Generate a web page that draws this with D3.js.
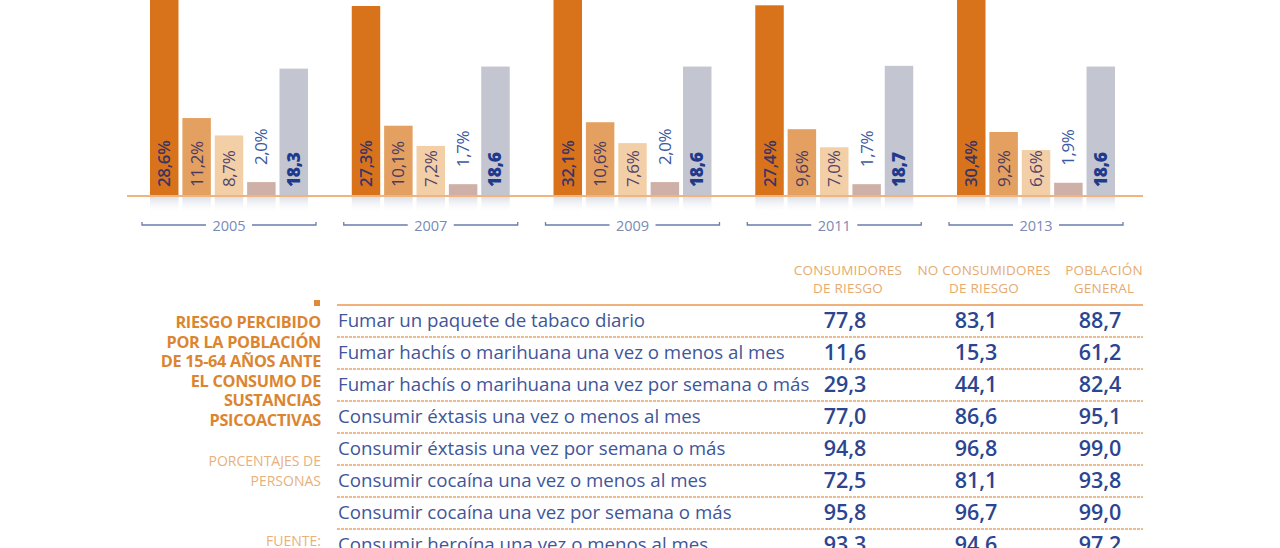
<!DOCTYPE html>
<html><head><meta charset="utf-8">
<script src="https://cdn.jsdelivr.net/npm/d3@7"></script>
<style>
html,body{margin:0;padding:0;background:#fff;}
svg{display:block;}
text{font-family:"Open Sans","Noto Sans",sans-serif;}
</style></head>
<body>
<svg id="c" width="1280" height="548"></svg>
<script>
// ---- Data ----
const years = ["2005","2007","2009","2011","2013"];
const seriesKeys = ["s1","s2","s3","s4","s5"];
const s1 = [28.6, 27.3, 32.1, 27.4, 30.4];
const s2 = [11.2, 10.1, 10.6, 9.6, 9.2];
const s3 = [8.7, 7.2, 7.6, 7.0, 6.6];
const s4 = [2.0, 1.7, 2.0, 1.7, 1.9];
const s5 = [18.3, 18.6, 18.6, 18.7, 18.6];

const tableHeaders = [["CONSUMIDORES","DE RIESGO"],["NO CONSUMIDORES","DE RIESGO"],["POBLACIÓN","GENERAL"]];
const rowLabels = [
  "Fumar un paquete de tabaco diario",
  "Fumar hachís o marihuana una vez o menos al mes",
  "Fumar hachís o marihuana una vez por semana o más",
  "Consumir éxtasis una vez o menos al mes",
  "Consumir éxtasis una vez por semana o más",
  "Consumir cocaína una vez o menos al mes",
  "Consumir cocaína una vez por semana o más",
  "Consumir heroína una vez o menos al mes"
];
const colConsumidores = [77.8, 11.6, 29.3, 77.0, 94.8, 72.5, 95.8, 93.3];
const colNoConsumidores = [83.1, 15.3, 44.1, 86.6, 96.8, 81.1, 96.7, 94.6];
const colPoblacion = [88.7, 61.2, 82.4, 95.1, 99.0, 93.8, 99.0, 97.2];
const titleLines = ["RIESGO PERCIBIDO","POR LA POBLACIÓN","DE 15-64 AÑOS ANTE","EL CONSUMO DE","SUSTANCIAS","PSICOACTIVAS"];
const noteLines = ["PORCENTAJES DE","PERSONAS"];
const sourceLines = ["FUENTE:"];

// ---- Setup ----
const svg = d3.select("#c");
const seriesVals = [s1,s2,s3,s4,s5];
const barColors = ["#d8731c","#e4a060","#f3cfa8","#cfb0a8","#c3c6d0"];
const labelColors = ["#3c3462","#4a3a60","#534468","#3d5aa0","#1f3a8c"];
const labelWeights = [600,500,500,500,800];

const baseline = 196;
const x0 = d3.scaleBand().domain(years).range([150,1115]).paddingInner(0.217).paddingOuter(0);
const x1 = d3.scaleBand().domain(seriesKeys).range([0,x0.bandwidth()]).paddingInner(0.12).paddingOuter(0);
const y = d3.scaleLinear().domain([0,10]).range([baseline, baseline-69.6]);

const defs = svg.append("defs");
const grad = defs.append("linearGradient").attr("id","refl").attr("x1",0).attr("x2",0).attr("y1",0).attr("y2",1);
grad.append("stop").attr("offset","0%").attr("stop-color","#d9dce6").attr("stop-opacity",0.9);
grad.append("stop").attr("offset","100%").attr("stop-color","#ffffff").attr("stop-opacity",0);

const data = [];
years.forEach((yr,i)=>{
  seriesKeys.forEach((k,j)=>{ data.push({year:yr, key:k, j:j, v:seriesVals[j][i]}); });
});

const g = svg.append("g");
g.selectAll("rect.refl").data(data).enter().append("rect")
  .attr("x", d=>x0(d.year)+x1(d.key)).attr("width", x1.bandwidth())
  .attr("y", baseline+1).attr("height", 16).attr("fill","url(#refl)");
g.selectAll("rect.bar").data(data).enter().append("rect")
  .attr("x", d=>x0(d.year)+x1(d.key)).attr("width", x1.bandwidth())
  .attr("y", d=>y(d.v)).attr("height", d=>baseline-y(d.v))
  .attr("fill", d=>barColors[d.j]);
svg.append("line").attr("x1",127).attr("x2",1143).attr("y1",baseline).attr("y2",baseline)
  .attr("stroke","#f0b57c").attr("stroke-width",2);

const fmt = v => d3.format(".1f")(v).replace(".",",");
g.selectAll("text.lab").data(data).enter().append("text")
  .attr("transform", d=>{
    const cx = x0(d.year)+x1(d.key)+x1.bandwidth()/2;
    const by = d.j===3 ? y(d.v)-17 : baseline-9;
    return `translate(${cx+6},${by}) rotate(-90)`;
  })
  .attr("text-anchor","start")
  .attr("font-size", d=> d.j===4 ? 17.5 : 17)
  .attr("font-weight", d=>labelWeights[d.j])
  .attr("fill", d=>labelColors[d.j])
  .attr("letter-spacing", -0.4)
  .text(d=> d.j===4 ? fmt(d.v) : fmt(d.v)+"%");

// year brackets
const yb = 225;
years.forEach(yr=>{
  const a = x0(yr)-8, b = x0(yr)+x0.bandwidth()+8, c = x0(yr)+x0.bandwidth()/2;
  const gb = svg.append("g").attr("stroke","#6a7cab").attr("stroke-width",1.3).attr("fill","none");
  gb.append("path").attr("d",`M${a},${yb-3}V${yb}H${c-23}`);
  gb.append("path").attr("d",`M${c+23},${yb}H${b}V${yb-3}`);
  svg.append("text").attr("x",c).attr("y",yb+6).attr("text-anchor","middle")
    .attr("font-size",14.5).attr("fill","#7a8ab5").text(yr);
});

// ---- Table ----
const colX = [845, 976, 1100];
const headCX = [848, 984, 1104];
tableHeaders.forEach((h,i)=>{
  h.forEach((t,k)=>{
    svg.append("text").attr("x",headCX[i]).attr("y",275+k*18).attr("text-anchor","middle")
      .attr("font-size",13.5).attr("fill","#e6aa70").attr("letter-spacing",0.2).text(t);
  });
});

const rowY = d3.scaleBand().domain(d3.range(rowLabels.length)).range([305, 305+32*rowLabels.length]);
svg.selectAll("line.sep").data(d3.range(rowLabels.length)).enter().append("line")
  .attr("x1",337).attr("x2",1143)
  .attr("y1",d=>rowY(d)).attr("y2",d=>rowY(d))
  .attr("stroke", d=> d===0 ? "#f0b27a" : "#e8a467")
  .attr("stroke-width", d=> d===0 ? 2 : 1.6)
  .attr("stroke-dasharray", d=> d===0 ? null : "3,1");

svg.selectAll("text.row").data(rowLabels).enter().append("text")
  .attr("x",338).attr("y",(d,i)=>rowY(i)+22).attr("font-size",18.7)
  .attr("fill","#3f5699").text(d=>d);

[colConsumidores,colNoConsumidores,colPoblacion].forEach((col,ci)=>{
  svg.selectAll(null).data(col).enter().append("text")
    .attr("x",colX[ci]).attr("y",(d,i)=>rowY(i)+23).attr("text-anchor","middle")
    .attr("font-size",21.5).attr("font-weight",600).attr("fill","#2c4590")
    .text(d=>fmt(d));
});

// left title
svg.append("rect").attr("x",314).attr("y",300).attr("width",6).attr("height",6).attr("fill","#e08a3a");
titleLines.forEach((t,i)=>{
  svg.append("text").attr("x",321).attr("y",328+i*19.6).attr("text-anchor","end")
    .attr("font-size",16.3).attr("font-weight",700).attr("fill","#dc8530").attr("letter-spacing",-0.3).text(t);
});
noteLines.forEach((t,i)=>{
  svg.append("text").attr("x",321).attr("y",466+i*20).attr("text-anchor","end")
    .attr("font-size",14).attr("fill","#e8b07c").text(t);
});
sourceLines.forEach((t,i)=>{
  svg.append("text").attr("x",321).attr("y",546+i*20).attr("text-anchor","end")
    .attr("font-size",14).attr("fill","#e8b07c").text(t);
});
</script>
</body></html>
